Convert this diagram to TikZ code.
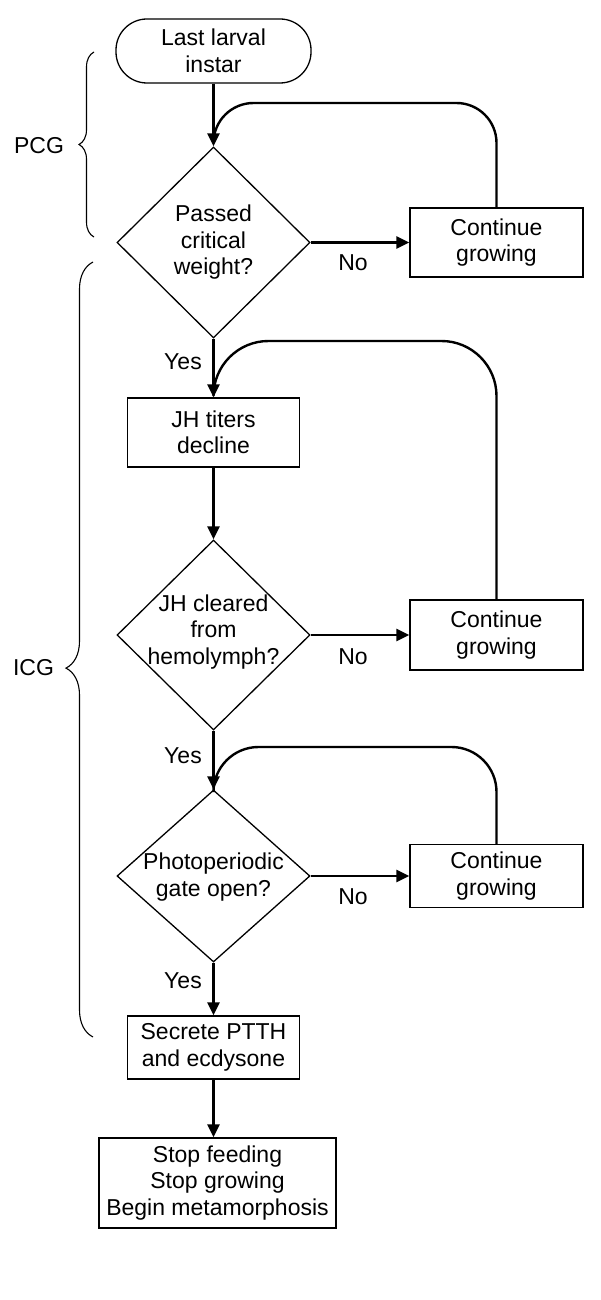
\documentclass[tikz,border=0pt]{standalone}
\usepackage{fontspec}
\setmainfont{Liberation Sans}
\usetikzlibrary{shapes.geometric,arrows.meta,decorations.pathreplacing}
\begin{document}
\begin{tikzpicture}[x=1pt,y=-1pt,
  every node/.style={font=\fontsize{23}{26.5}\selectfont, align=center},
  box/.style={draw, line width=1.3pt, rectangle, inner sep=0pt, minimum width=172pt},
  startbox/.style={draw, line width=1.3pt, rectangle, rounded corners=31pt, inner sep=0pt, minimum width=195pt, minimum height=64pt},
  dia/.style={draw, line width=1.3pt, diamond, inner sep=0pt, minimum width=193pt},
  arr/.style={line width=2.4pt, -{Triangle[length=13pt,width=12pt]}},
  loopline/.style={line width=2.4pt},
  brc/.style={line width=1.1pt, decorate},
  lbl/.style={inner sep=0pt}]
\useasboundingbox (0,0) rectangle (600,1300);

% nodes
\node[startbox] (start) at (213.5,51) {Last larval\\instar};
\node[dia, minimum height=191pt] (d1) at (213.5,242.5) {};
\node[lbl] (d1t) at (d1) {Passed\\critical\\weight?};
\node[box, minimum width=173pt, minimum height=69pt] (c1) at (496.5,242.5) {Continue\\growing};
\node[box, minimum height=69pt] (jh) at (213.5,432.5) {JH titers\\decline};
\node[dia, minimum height=190pt] (d2) at (213.5,635) {};
\node[lbl] (d2t) at (213.5,632) {JH cleared\\from\\hemolymph?};
\node[box, minimum width=173pt, minimum height=70pt] (c2) at (496.5,635) {Continue\\growing};
\node[dia, minimum height=172pt] (d3) at (213.5,876) {};
\node[lbl] (d3t) at (213.5,877) {Photoperiodic\\gate open?};
\node[box, minimum width=173pt, minimum height=63pt] (c3) at (496.5,876) {Continue\\growing};
\node[box, minimum height=63pt] (sec) at (213.5,1047.5) {Secrete PTTH\\and ecdysone};
\node[box, minimum width=237pt, minimum height=90pt] (fin) at (217.5,1183) {Stop feeding\\Stop growing\\Begin metamorphosis};

% edge labels
\node[lbl] (no1) at (353,262.5) {No};
\node[lbl] (no2) at (353,657) {No};
\node[lbl] (no3) at (353,897) {No};
\node[lbl] (yes1) at (183,362) {Yes};
\node[lbl] (yes2) at (183,756) {Yes};
\node[lbl] (yes3) at (183,981) {Yes};

% brace labels
\node[lbl] (pcg) at (39,146) {PCG};
\node[lbl] (icg) at (33.5,668) {ICG};

% coordinates for loops
\coordinate (l1) at (213.5,103);
\coordinate (r1) at (496.5,103);
\coordinate (e1) at (213.5,140);
\coordinate (l2) at (213.5,341);
\coordinate (r2) at (496.5,341);
\coordinate (e2) at (213.5,390);
\coordinate (l3) at (213.5,747);
\coordinate (r3) at (496.5,747);
\coordinate (e3) at (213.5,783);

% main flow
\draw[arr] (start.south) -- (d1.north);
\draw[arr] (d1.south) -- (jh.north);
\draw[arr] (jh.south) -- (d2.north);
\draw[arr] (d2.south) -- (d3.north);
\draw[arr] (d3.south) -- (sec.north);
\draw[arr] (sec.south) -- (sec.south |- fin.north);

% no branches
\draw[arr] (d1.east) -- (c1.west);
\draw[arr] (d2.east) -- (c2.west);
\draw[arr] (d3.east) -- (c3.west);

% loops (they join the main arrows just above their tips)
\draw[loopline] (c1.north) [rounded corners=40pt] -- (r1) -- (l1) [rounded corners=26pt] -- (e1);
\draw[loopline] (c2.north) [rounded corners=55pt] -- (r2) -- (l2) [rounded corners=30pt] -- (e2);
\draw[loopline] (c3.north) [rounded corners=45pt] -- (r3) -- (l3) [rounded corners=25pt] -- (e3);

% braces
\draw[brc, decoration={brace, amplitude=15pt}] (94,237) -- (94,52);
\draw[brc, decoration={brace, amplitude=27pt, aspect=0.476}] (93,1037) -- (93,262);
\end{tikzpicture}
\end{document}
